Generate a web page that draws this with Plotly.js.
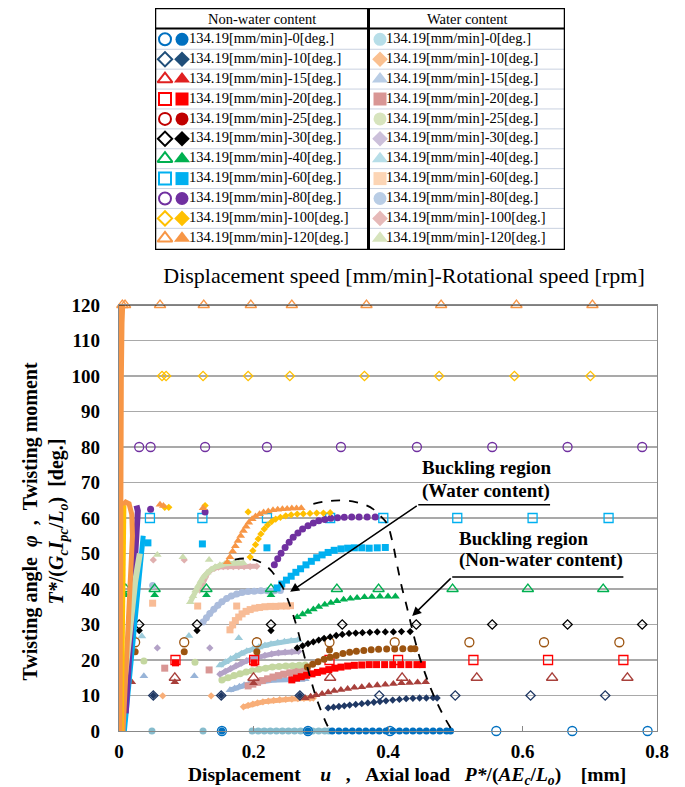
<!DOCTYPE html>
<html><head><meta charset="utf-8">
<script src="https://cdn.plot.ly/plotly-3.0.1.min.js"></script>
<style>html,body{margin:0;padding:0;background:#fff}#chart{width:685px;height:787px}</style>
</head><body><div id="chart"></div>
<script>
const FONT = 'Liberation Serif, Times New Roman, serif';
const speedLabel = '134.19[mm/min]';
const angles = [0,10,15,20,25,30,40,60,80,100,120];

// ---------- Non-water content: twisting angle phi (open markers) ----------
const nwOpenX_0 = [0.153,0.281,0.403,0.561,0.674,0.786];
const nwOpenY_0 = [0,0,0,0,0,0];
const nwOpenX_10 = [0.051,0.152,0.269,0.387,0.500,0.612,0.723];
const nwOpenY_10 = [10,10,10,10,10,10,10];
const nwOpenX_15 = [0.083,0.200,0.314,0.421,0.532,0.644,0.756];
const nwOpenY_15 = [15,15,15,15,15,15,15];
const nwOpenX_20 = [0.084,0.201,0.313,0.415,0.527,0.638,0.750];
const nwOpenY_20 = [20,20,20,20,20,20,20];
const nwOpenX_25 = [0.024,0.097,0.205,0.313,0.410,0.521,0.632,0.744];
const nwOpenY_25 = [25,25,25,25,25,25,25,25];
const nwOpenX_30 = [0.030,0.116,0.226,0.332,0.442,0.555,0.667,0.778];
const nwOpenY_30 = [30,30,30,30,30,30,30,30];
const nwOpenX_40 = [0.010,0.053,0.130,0.226,0.324,0.386,0.496,0.608,0.720];
const nwOpenY_40 = [40,40,40,40,40,40,40,40,40];
const nwOpenX_60 = [0.046,0.124,0.220,0.314,0.393,0.503,0.615,0.728];
const nwOpenY_60 = [60,60,60,60,60,60,60,60];
const nwOpenX_80 = [0.030,0.047,0.128,0.220,0.330,0.443,0.555,0.667,0.778];
const nwOpenY_80 = [80,80,80,80,80,80,80,80,80];
const nwOpenX_100 = [0.064,0.070,0.125,0.192,0.254,0.365,0.476,0.588,0.701];
const nwOpenY_100 = [100,100,100,100,100,100,100,100,100];
const nwOpenX_120 = [0.005,0.009,0.061,0.126,0.196,0.257,0.368,0.479,0.591,0.704];
const nwOpenY_120 = [120,120,120,120,120,120,120,120,120,120];

// ---------- Non-water content: twisting moment (filled, sparse points) ----------
const nwDotsX_0 = [0.153,0.281];            const nwDotsY_0 = [0,0];
const nwDotsX_10 = [0.051,0.152,0.269];     const nwDotsY_10 = [10,10,10];
const nwDotsX_15 = [0.019,0.083,0.200];     const nwDotsY_15 = [13.8,13.8,13.5];
const nwDotsX_20 = [0.084,0.201];           const nwDotsY_20 = [19.2,19.2];
const nwDotsX_25 = [0.024,0.097,0.205,0.313]; const nwDotsY_25 = [22.3,22.3,22.3,22.8];
const nwDotsX_30 = [0.030,0.116,0.226];     const nwDotsY_30 = [28.3,28.3,28.3];
const nwDotsX_40 = [0.010,0.053,0.130,0.226]; const nwDotsY_40 = [38.3,38.3,38.3,38.3];
const nwDotsX_60 = [0.043,0.124,0.220];     const nwDotsY_60 = [53.0,52.7,51.6];
const nwDotsX_80 = [0.047,0.128];           const nwDotsY_80 = [62.5,61.7];
const nwDotsX_100 = [0.068,0.074,0.128,0.192]; const nwDotsY_100 = [63.0,63.0,63.5,61.7];
const nwDotsX_120 = [0.061,0.066,0.125];    const nwDotsY_120 = [63.8,63.4,62.8];

// ---------- Non-water content: twisting moment (filled, dense curves) ----------
const nwCurveX_0 = [0.317,0.327,0.337,0.347,0.357,0.367,0.377,0.387,0.397,0.407,0.417,0.427,0.437,0.447,0.457,0.467,0.477,0.487,0.493];
const nwCurveY_0 = [0,0,0,0,0,0,0,0,0,0,0,0,0,0,0,0,0,0,0];
const nwCurveX_10 = [0.311,0.319,0.327,0.335,0.343,0.352,0.361,0.370,0.379,0.388,0.397,0.407,0.417,0.427,0.437,0.447,0.457,0.467,0.473];
const nwCurveY_10 = [6.5,6.7,6.9,7.1,7.3,7.5,7.7,7.9,8.1,8.3,8.5,8.7,8.9,9.1,9.2,9.3,9.3,9.4,9.3];
const nwCurveX_15 = [0.277,0.285,0.293,0.302,0.311,0.320,0.330,0.340,0.350,0.361,0.372,0.384,0.396,0.408,0.420,0.432,0.444,0.456];
const nwCurveY_15 = [9.3,9.7,10.1,10.5,10.9,11.3,11.6,11.9,12.2,12.4,12.7,12.9,13.1,13.3,13.5,13.6,13.7,13.8];
const nwCurveX_20 = [0.257,0.264,0.271,0.279,0.287,0.295,0.303,0.312,0.321,0.330,0.340,0.350,0.361,0.372,0.383,0.395,0.407,0.419,0.431,0.443,0.451];
const nwCurveY_20 = [14.4,14.9,15.3,15.7,16.1,16.5,16.9,17.3,17.7,18.0,18.3,18.5,18.6,18.7,18.7,18.7,18.7,18.7,18.7,18.7,18.7];
const nwCurveX_25 = [0.280,0.288,0.296,0.305,0.314,0.323,0.333,0.343,0.353,0.364,0.375,0.386,0.398,0.410,0.422,0.434,0.440];
const nwCurveY_25 = [18.0,18.8,19.5,20.2,20.8,21.3,21.8,22.2,22.5,22.7,22.9,23.0,23.1,23.1,23.2,23.2,23.2];
const nwCurveX_30 = [0.265,0.273,0.281,0.289,0.297,0.305,0.314,0.323,0.332,0.342,0.352,0.362,0.373,0.384,0.396,0.408,0.420,0.433];
const nwCurveY_30 = [23.4,24.0,24.6,25.1,25.6,26.1,26.5,26.9,27.2,27.5,27.6,27.7,27.8,27.9,27.9,27.9,28.0,28.0];
const nwCurveX_40 = [0.265,0.273,0.281,0.289,0.297,0.306,0.315,0.324,0.334,0.344,0.354,0.365,0.376,0.388,0.400,0.411];
const nwCurveY_40 = [32.1,32.9,33.6,34.3,35.0,35.6,36.1,36.6,37.0,37.3,37.5,37.7,37.8,37.9,37.9,37.9];
const nwCurveX_60 = [0.235,0.242,0.249,0.256,0.263,0.270,0.278,0.286,0.294,0.302,0.311,0.320,0.330,0.340,0.350,0.361,0.372,0.384,0.396];
const nwCurveY_60 = [40.3,41.4,42.5,43.6,44.7,45.7,46.8,47.8,48.8,49.6,50.3,50.9,51.3,51.5,51.6,51.6,51.5,51.6,51.7];
const nwCurveX_80 = [0.231,0.236,0.241,0.247,0.253,0.259,0.266,0.273,0.281,0.289,0.297,0.306,0.315,0.325,0.335,0.346,0.357,0.369,0.381];
const nwCurveY_80 = [46.8,48.5,50.1,51.7,53.2,54.6,55.8,56.9,57.8,58.6,59.2,59.6,59.9,60.1,60.2,60.3,60.3,60.3,60.3];
const nwCurveX_100 = [0.195,0.199,0.203,0.207,0.211,0.216,0.221,0.227,0.233,0.240,0.248,0.256,0.265,0.274,0.284,0.294,0.304,0.314];
const nwCurveY_100 = [49.0,50.8,52.5,54.1,55.5,56.9,58.0,59.0,59.7,60.2,60.6,60.9,61.1,61.2,61.3,61.4,61.4,61.5];
const nwCurveX_120 = [0.161,0.165,0.169,0.173,0.177,0.181,0.185,0.189,0.193,0.198,0.203,0.209,0.215,0.222,0.229,0.236,0.243,0.250,0.257,0.264,0.271];
const nwCurveY_120 = [47.6,49.0,50.6,52.1,53.6,55.0,56.4,57.6,58.7,59.7,60.5,61.1,61.6,61.9,62.2,62.4,62.5,62.6,62.7,62.7,62.8];

// ---------- Water content: sparse points ----------
const wDotsX_0 = [0.049,0.125];          const wDotsY_0 = [0,0];
const wDotsX_10 = [0.065,0.137];         const wDotsY_10 = [9.9,9.9];
const wDotsX_15 = [0.037,0.112];         const wDotsY_15 = [15.5,15.5];
const wDotsX_20 = [0.068,0.134];         const wDotsY_20 = [17.7,17.2];
const wDotsX_25 = [0.037,0.113];         const wDotsY_25 = [19.7,19.4];
const wDotsX_30 = [0.057,0.135];         const wDotsY_30 = [23.4,23.4];
const wDotsX_40 = [0.021,0.034,0.104,0.178]; const wDotsY_40 = [26.8,26.7,26.8,26.2];
const wDotsX_60 = [0.050,0.117,0.175];   const wDotsY_60 = [36.0,35.2,35.2];
const wDotsX_80 = [0.050];               const wDotsY_80 = [41.0];
const wDotsX_100 = [0.051,0.097];        const wDotsY_100 = [48.2,48.2];
const wDotsX_120 = [0.057,0.095,0.134];  const wDotsY_120 = [49.6,49.0,48.2];

// ---------- Water content: dense curves ----------
const wCurveX_0 = [0.198,0.207,0.216,0.225,0.234,0.243,0.252,0.261,0.270,0.279,0.288,0.297,0.306,0.312];
const wCurveY_0 = [0,0,0,0,0,0,0,0,0,0,0,0,0,0];
const wCurveX_10 = [0.185,0.192,0.199,0.206,0.214,0.222,0.230,0.239,0.248,0.257,0.266,0.275,0.284,0.289];
const wCurveY_10 = [6.8,7.2,7.6,7.9,8.2,8.4,8.6,8.8,8.9,9.0,9.1,9.2,9.2,9.3];
const wCurveX_15 = [0.165,0.172,0.179,0.186,0.194,0.202,0.210,0.219,0.228,0.237,0.247,0.257,0.267,0.277];
const wCurveY_15 = [11.5,12.0,12.5,12.9,13.3,13.6,13.9,14.1,14.3,14.4,14.5,14.6,14.6,14.6];
const wCurveX_20 = [0.192,0.199,0.206,0.213,0.221,0.229,0.237,0.245,0.254,0.263,0.272,0.280];
const wCurveY_20 = [12.7,13.2,13.7,14.2,14.7,15.2,15.6,16.0,16.4,16.8,17.1,17.3];
const wCurveX_25 = [0.153,0.162,0.171,0.180,0.189,0.198,0.208,0.218,0.228,0.238,0.248,0.258,0.268,0.277];
const wCurveY_25 = [14.4,15.0,15.6,16.1,16.6,17.0,17.4,17.7,18.0,18.2,18.3,18.4,18.5,18.6];
const wCurveX_30 = [0.150,0.158,0.166,0.174,0.182,0.190,0.199,0.208,0.217,0.227,0.237,0.247,0.257,0.267];
const wCurveY_30 = [16.0,16.8,17.6,18.4,19.1,19.8,20.4,20.9,21.3,21.7,22.0,22.2,22.3,22.4];
const wCurveX_40 = [0.150,0.158,0.166,0.174,0.182,0.190,0.199,0.208,0.217,0.226,0.236,0.246,0.256,0.266];
const wCurveY_40 = [18.5,19.4,20.3,21.1,21.8,22.5,23.1,23.6,24.1,24.5,24.9,25.2,25.4,25.6];
const wCurveX_60 = [0.165,0.169,0.173,0.178,0.183,0.189,0.195,0.202,0.209,0.217,0.225,0.233,0.241,0.249,0.255];
const wCurveY_60 = [28.5,29.9,31.1,32.1,33.0,33.7,34.2,34.6,34.8,35.0,35.1,35.1,35.2,35.2,35.3];
const wCurveX_80 = [0.125,0.130,0.135,0.141,0.147,0.153,0.160,0.167,0.175,0.183,0.192,0.201,0.211,0.221,0.231,0.240];
const wCurveY_80 = [30.7,31.9,33.1,34.3,35.4,36.4,37.3,38.0,38.6,39.0,39.3,39.4,39.5,39.5,39.5,39.6];
const wCurveX_100 = [0.120,0.124,0.128,0.132,0.137,0.142,0.148,0.155,0.162,0.170,0.178,0.186,0.195,0.205];
const wCurveY_100 = [39.7,41.5,43.2,44.5,45.4,45.9,46.2,46.3,46.3,46.3,46.3,46.3,46.3,46.4];
const wCurveX_120 = [0.106,0.110,0.114,0.118,0.122,0.126,0.131,0.137,0.143,0.150,0.157,0.164,0.171,0.178,0.185];
const wCurveY_120 = [36.3,38.0,39.6,41.0,42.3,43.5,44.6,45.5,46.2,46.7,47.0,47.2,47.3,47.3,47.3];

// ---------- Initial rising parts near u = 0 ----------
const riseX_nw120open = [0.000,0.000,0.001,0.001,0.002,0.002,0.003,0.004];
const riseY_nw120open = [0,20,40,60,80,100,115,120];
const riseX_nw120 = [0.006,0.010,0.014,0.018,0.020,0.019,0.015,0.010,0.005,0.003];
const riseY_nw120 = [0,15,30,45,55,61,64,64.5,63.5,60];
const riseX_nw100 = [0.004,0.005,0.006,0.007,0.008,0.008];
const riseY_nw100 = [0,15,30,45,58,63.5];
const riseX_nw80 = [0.010,0.015,0.020,0.025,0.028,0.028,0.026];
const riseY_nw80 = [5,20,35,50,58,62,63.5];
const riseX_nw60 = [0.008,0.014,0.020,0.026,0.032,0.036];
const riseY_nw60 = [0,12,24,36,48,55];
const riseX_w120 = [0.000,0.008,0.016,0.024,0.031];
const riseY_w120 = [0,15,30,42,50];

// ---------- Buckling region boundaries ----------
const buckWaterX = [0.172,0.190,0.205,0.218,0.228,0.236,0.243,0.249,0.255,0.261,0.267,0.273,0.280,0.287,0.294,0.302,0.310,0.316];
const buckWaterY = [48.3,48.6,48.0,46.6,44.8,42.6,40.6,38.0,35.0,31.5,27.5,23.0,18.0,13.3,9.0,5.0,1.5,0];
const buckNonWaterX = [0.289,0.305,0.320,0.336,0.352,0.366,0.378,0.388,0.398,0.406,0.413,0.420,0.428,0.434,0.440,0.447,0.455,0.464,0.473,0.484,0.495];
const buckNonWaterY = [64.0,64.6,64.9,64.9,64.5,63.7,62.5,60.7,58.6,53.8,47.3,41.0,35.0,30.2,25.6,20.8,16.3,11.8,7.9,3.8,0.3];

const xTicks = [0,0.2,0.4,0.6,0.8];
const xTickText = ['0','0.2','0.4','0.6','0.8'];

// ---------- tables built from the arrays above ----------
const nwOpenXs = [nwOpenX_0,nwOpenX_10,nwOpenX_15,nwOpenX_20,nwOpenX_25,nwOpenX_30,nwOpenX_40,nwOpenX_60,nwOpenX_80,nwOpenX_100,nwOpenX_120];
const nwOpenYs = [nwOpenY_0,nwOpenY_10,nwOpenY_15,nwOpenY_20,nwOpenY_25,nwOpenY_30,nwOpenY_40,nwOpenY_60,nwOpenY_80,nwOpenY_100,nwOpenY_120];
const nwDotsXs = [nwDotsX_0,nwDotsX_10,nwDotsX_15,nwDotsX_20,nwDotsX_25,nwDotsX_30,nwDotsX_40,nwDotsX_60,nwDotsX_80,nwDotsX_100,nwDotsX_120];
const nwDotsYs = [nwDotsY_0,nwDotsY_10,nwDotsY_15,nwDotsY_20,nwDotsY_25,nwDotsY_30,nwDotsY_40,nwDotsY_60,nwDotsY_80,nwDotsY_100,nwDotsY_120];
const nwCurveXs = [nwCurveX_0,nwCurveX_10,nwCurveX_15,nwCurveX_20,nwCurveX_25,nwCurveX_30,nwCurveX_40,nwCurveX_60,nwCurveX_80,nwCurveX_100,nwCurveX_120];
const nwCurveYs = [nwCurveY_0,nwCurveY_10,nwCurveY_15,nwCurveY_20,nwCurveY_25,nwCurveY_30,nwCurveY_40,nwCurveY_60,nwCurveY_80,nwCurveY_100,nwCurveY_120];
const wDotsXs = [wDotsX_0,wDotsX_10,wDotsX_15,wDotsX_20,wDotsX_25,wDotsX_30,wDotsX_40,wDotsX_60,wDotsX_80,wDotsX_100,wDotsX_120];
const wDotsYs = [wDotsY_0,wDotsY_10,wDotsY_15,wDotsY_20,wDotsY_25,wDotsY_30,wDotsY_40,wDotsY_60,wDotsY_80,wDotsY_100,wDotsY_120];
const wCurveXs = [wCurveX_0,wCurveX_10,wCurveX_15,wCurveX_20,wCurveX_25,wCurveX_30,wCurveX_40,wCurveX_60,wCurveX_80,wCurveX_100,wCurveX_120];
const wCurveYs = [wCurveY_0,wCurveY_10,wCurveY_15,wCurveY_20,wCurveY_25,wCurveY_30,wCurveY_40,wCurveY_60,wCurveY_80,wCurveY_100,wCurveY_120];

// ---------- styles ----------
const symbols = ['circle','diamond','triangle-up','square','circle','diamond','triangle-up','square','circle','diamond','triangle-up'];
const nwColors = ['#0070C0','#1F3864','#A8403B','#FF0000','#9C5410','#000000','#00B050','#00B0F0','#7030A0','#FFC000','#F79646'];
const nwLegendColors = ['#0070C0','#1F4E79','#E02020','#FF0000','#C00000','#000000','#00B050','#00B0F0','#7030A0','#FFC000','#F79646'];
const wColors = ['#86BCCD','#F8AE78','#98B4D8','#D99694','#C4D7A0','#B3A2C7','#9CCBDA','#F8BC96','#ABBCDC','#E0B0AF','#CCDDB0'];
const wLegendColors = ['#B7DEE8','#FAC090','#B9CDE5','#D99694','#D7E4BD','#CCC0DA','#B7DEE8','#FCD5B5','#B9CDE5','#E6B9B8','#D7E4BD'];
// marker size factors so that diamonds / triangles look as large as circles
const sizeFactor = s => s==='diamond' ? 0.8 : (s==='triangle-up' ? 1.1 : 1);

const traces = [];
const base = {type:'scatter', cliponaxis:false, hoverinfo:'skip', xaxis:'x', yaxis:'y'};

// water content
angles.forEach((a,i)=>{
  traces.push(Object.assign({}, base, {mode:'markers', x:wDotsXs[i], y:wDotsYs[i],
    marker:{symbol:symbols[i], size:7*sizeFactor(symbols[i]), color:wColors[i]}}));
});
angles.forEach((a,i)=>{
  traces.push(Object.assign({}, base, {mode:'lines+markers', x:wCurveXs[i], y:wCurveYs[i],
    line:{color:wColors[i], width:5}, marker:{symbol:symbols[i], size:7*sizeFactor(symbols[i]), color:wColors[i]}}));
});
// non-water open (phi)
angles.forEach((a,i)=>{
  traces.push(Object.assign({}, base, {mode:'markers', x:nwOpenXs[i], y:nwOpenYs[i],
    marker:{symbol:symbols[i]+'-open', size:9*sizeFactor(symbols[i]), color:nwColors[i], line:{width:1.3, color:nwColors[i]}}}));
});
// non-water filled
angles.forEach((a,i)=>{
  traces.push(Object.assign({}, base, {mode:'markers', x:nwDotsXs[i], y:nwDotsYs[i],
    marker:{symbol:symbols[i], size:7*sizeFactor(symbols[i]), color:nwColors[i]}}));
  traces.push(Object.assign({}, base, {mode:'markers', x:nwCurveXs[i], y:nwCurveYs[i],
    marker:{symbol:symbols[i], size:7*sizeFactor(symbols[i]), color:nwColors[i]}}));
});
// rising parts
const rise = (x,y,c,w)=>traces.push(Object.assign({}, base, {mode:'lines', x:x, y:y, line:{color:c, width:w}}));
rise(riseX_nw60, riseY_nw60, '#00B0F0', 5);
rise(riseX_nw80, riseY_nw80, '#7030A0', 6);
rise(riseX_w120, riseY_w120, '#CCDDB0', 6);
rise(riseX_nw120, riseY_nw120, '#F79646', 5);
rise(riseX_nw100, riseY_nw100, '#FFC000', 4);
rise(riseX_nw120open, riseY_nw120open, '#F79646', 7);
// buckling boundaries
traces.push(Object.assign({}, base, {mode:'lines', x:buckWaterX, y:buckWaterY, line:{color:'#000', width:1.8, dash:'dash', shape:'spline'}}));
traces.push(Object.assign({}, base, {mode:'lines', x:buckNonWaterX, y:buckNonWaterY, line:{color:'#000', width:1.8, dash:'dash', shape:'spline'}}));

// ---------- legend table (own axes, units = pixels of the table) ----------
const rowY = i => 31.3 + 19.9*i;
const lg = {type:'scatter', cliponaxis:false, hoverinfo:'skip', xaxis:'x2', yaxis:'y2'};
angles.forEach((a,i)=>{
  const label = speedLabel + '-' + a + '[deg.]';
  const s = symbols[i];
  const sz = s==='diamond' ? 11 : (s==='triangle-up' ? 13 : 12);
  traces.push(Object.assign({}, lg, {mode:'markers', x:[10], y:[rowY(i)],
    marker:{symbol:s+'-open', size:sz, color:nwLegendColors[i], line:{width:2, color:nwLegendColors[i]}}}));
  traces.push(Object.assign({}, lg, {mode:'markers', x:[27], y:[rowY(i)],
    marker:{symbol:s, size:sz+1, color:nwLegendColors[i]}}));
  traces.push(Object.assign({}, lg, {mode:'text', x:[34], y:[rowY(i)], text:[label], textposition:'middle right',
    textfont:{family:FONT, size:14.5, color:'#000'}}));
  traces.push(Object.assign({}, lg, {mode:'markers', x:[225], y:[rowY(i)],
    marker:{symbol:s, size:sz+1, color:wLegendColors[i]}}));
  traces.push(Object.assign({}, lg, {mode:'text', x:[231], y:[rowY(i)], text:[label], textposition:'middle right',
    textfont:{family:FONT, size:14.5, color:'#000'}}));
});

const shapes = [];
for (let i=1;i<11;i++){
  const yy = 21.35 + 19.9*i;
  shapes.push({type:'line', xref:'x2', yref:'y2', x0:0, x1:410, y0:yy, y1:yy, line:{color:'#C9D1E0', width:1}});
}
shapes.push({type:'line', xref:'x2', yref:'y2', x0:0, x1:410, y0:20.5, y1:20.5, line:{color:'#000', width:2}});
shapes.push({type:'line', xref:'x2', yref:'y2', x0:213.5, x1:213.5, y0:0, y1:242, line:{color:'#000', width:3}});
shapes.push({type:'rect', xref:'x2', yref:'y2', x0:0, x1:410, y0:0, y1:242, line:{color:'#000', width:2.5}});
// top border of the plot
shapes.push({type:'line', xref:'paper', yref:'y', x0:0, x1:1, y0:120, y1:120, line:{color:'#000', width:1.2}});
// underlines of buckling labels
shapes.push({type:'line', xref:'x', yref:'y', x0:0.445, x1:0.641, y0:63.7, y1:63.7, line:{color:'#000', width:1.5}});
shapes.push({type:'line', xref:'x', yref:'y', x0:0.4955, x1:0.750, y0:43.4, y1:43.4, line:{color:'#000', width:1.5}});

const annotations = [
  {xref:'x2', yref:'y2', x:107, y:11, text:'Non-water content', showarrow:false, font:{family:FONT, size:14.5, color:'#000'}},
  {xref:'x2', yref:'y2', x:312, y:11, text:'Water content', showarrow:false, font:{family:FONT, size:14.5, color:'#000'}},
  {xref:'x', yref:'y', x:0.546, y:74.1, text:'<b>Buckling region</b>', showarrow:false, font:{family:FONT, size:19, color:'#000'}},
  {xref:'x', yref:'y', x:0.546, y:67.6, text:'<b>(Water content)</b>', showarrow:false, font:{family:FONT, size:19, color:'#000'}},
  {xref:'x', yref:'y', x:0.601, y:54.1, text:'<b>Buckling region</b>', showarrow:false, font:{family:FONT, size:19, color:'#000'}},
  {xref:'x', yref:'y', x:0.627, y:48.2, text:'<b>(Non-water content)</b>', showarrow:false, font:{family:FONT, size:19, color:'#000'}},
  {xref:'x', yref:'y', x:0.2545, y:39.2, axref:'x', ayref:'y', ax:0.445, ay:63.7, text:'', showarrow:true, arrowhead:2, arrowsize:1.2, arrowwidth:1.5, arrowcolor:'#000'},
  {xref:'x', yref:'y', x:0.436, y:32.4, axref:'x', ayref:'y', ax:0.4955, ay:43.4, text:'', showarrow:true, arrowhead:2, arrowsize:1.2, arrowwidth:1.5, arrowcolor:'#000'},
  {xref:'paper', yref:'y', x:-0.1375, y:59, xanchor:'center', yanchor:'middle', textangle:-90, showarrow:false,
    text:'<b>Twisting angle\u00a0\u00a0<i>φ</i>\u00a0\u00a0,\u00a0\u00a0Twisting moment<br><i>T*</i>/(<i>G<sub>c</sub>I<sub>pc</sub></i>/<i>L<sub>o</sub></i>)\u00a0\u00a0[deg.]</b>',
    font:{family:FONT, size:20, color:'#000'}},
  {xref:'paper', yref:'paper', x:0.535, y:-0.0615, xanchor:'center', yanchor:'middle', showarrow:false,
    text:'<b>Displacement\u00a0\u00a0\u00a0\u00a0<i>u</i>\u00a0\u00a0\u00a0,\u00a0\u00a0\u00a0Axial load\u00a0\u00a0\u00a0<i>P*</i>/(<i>AE<sub>c</sub></i>/<i>L<sub>o</sub></i>)\u00a0\u00a0\u00a0\u00a0[mm]</b>',
    font:{family:FONT, size:19.5, color:'#000'}}
];

const layout = {
  width:685, height:787, showlegend:false,
  paper_bgcolor:'#fff', plot_bgcolor:'#fff',
  margin:{l:119, r:28, t:5, b:56},
  title:{text:'Displacement speed [mm/min]-Rotational speed [rpm]', font:{family:FONT, size:22, color:'#000'},
    x:404/685, xref:'container', xanchor:'center', y:1-275/787, yref:'container', yanchor:'middle'},
  xaxis:{domain:[0,1], range:[0,0.8], tickvals:xTicks, ticktext:xTickText, showgrid:false, zeroline:false,
    ticks:'inside', ticklen:5, tickcolor:'#888', showline:true, linecolor:'#888', linewidth:1.2, mirror:true,
    tickfont:{family:FONT, size:19, color:'#000', weight:'bold'}, ticklabelstandoff:3, anchor:'y'},
  yaxis:{domain:[0,426/726], range:[0,120], dtick:10, showgrid:true, gridcolor:'#A9A9A9', gridwidth:1.5,
    zeroline:false, ticks:'', showline:true, linecolor:'#888', linewidth:1.2, mirror:true,
    tickfont:{family:FONT, size:19, color:'#000', weight:'bold'}, ticklabelstandoff:14, anchor:'x'},
  xaxis2:{domain:[36/538, 446/538], range:[0,410], visible:false, anchor:'y2', fixedrange:true},
  yaxis2:{domain:[(731-250)/726, (731-8)/726], range:[242,0], visible:false, anchor:'x2', fixedrange:true},
  shapes:shapes, annotations:annotations
};

Plotly.newPlot('chart', traces, layout, {displayModeBar:false, staticPlot:true});
</script>
</body></html>
